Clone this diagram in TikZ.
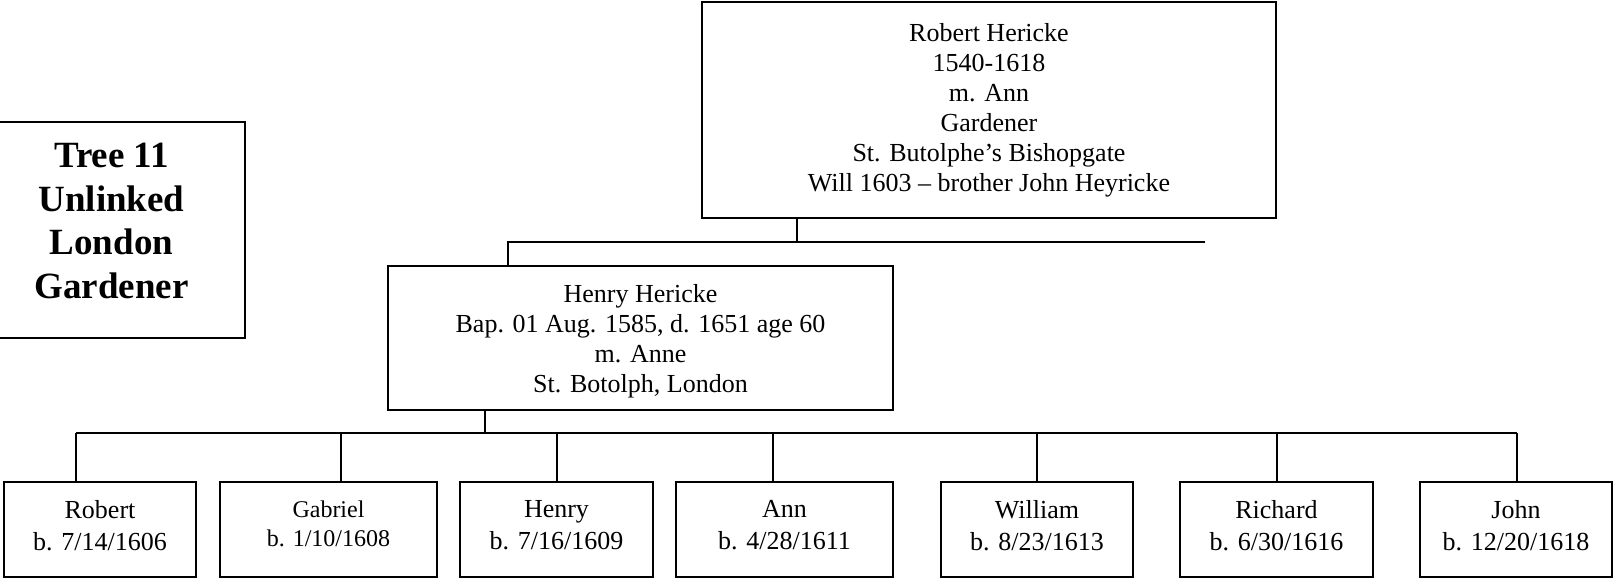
\documentclass[tikz,border=0pt]{standalone}
\usepackage{fontspec}
\setmainfont{Liberation Serif}

% struts to nudge the text inside a fixed box
\newcommand\lowend[1]{\rule[-#1]{0pt}{#1}}
\newcommand\highend[1]{\rule{0pt}{#1}}

\tikzset{
  box/.style={draw,line width=1pt,inner sep=0pt,outer sep=0pt,align=center,
    font=\fontsize{13}{15}\selectfont},
  kid/.style={box,minimum height=47.5pt},
  link/.style={line width=1pt}
}

\begin{document}
\begin{tikzpicture}[x=0.5pt,y=-0.5pt]
\useasboundingbox (0,0) rectangle (1613,580);

\node[box,minimum width=133.5pt,minimum height=108pt,
  font=\fontsize{18.5}{21.75}\selectfont\bfseries] (title) at (111.5,230)
  {Tree 11\\Unlinked\\London\\Gardener\lowend{9pt}};

\node[box,minimum width=287pt,minimum height=108pt] (rob) at (989,110)
  {Robert Hericke\\1540-1618\\m. Ann\\Gardener\\St. Butolphe's Bishopgate\\Will 1603 -- brother John Heyricke};
\node[box,minimum width=252.5pt,minimum height=72pt] (henry) at (640.5,338)
  {\highend{12.4pt}Henry Hericke\\Bap. 01 Aug. 1585, d. 1651 age 60\\m. Anne\\St. Botolph, London};

\coordinate (j1) at (797,242);
\coordinate (j1l) at (508,242);
\coordinate (j1r) at (1205,242);
\draw[link] (j1 |- rob.south) -- (j1);
\draw[link] (j1r) -- (j1l) -- (j1l |- henry.north);

\coordinate (j2) at (485,433);
\draw[link] (j2 |- henry.south) -- (j2);

\foreach \x/\w/\d/\n/\f/\s/\r/\t in {100/96/76/k1/13/16/4.2/{Robert\\b. 7/14/1606},
    328.5/108.5/341/k2/12/14.5/5.7/{Gabriel\\b. 1/10/1608},
    556.5/96.5/557/k3/13/16/4.2/{Henry\\b. 7/16/1609},
    784.5/108.5/773/k4/13/16/4.2/{Ann\\b. 4/28/1611},
    1037/96/1037/k5/13/16/4.2/{William\\b. 8/23/1613},
    1276.5/96.5/1277/k6/13/16/4.2/{Richard\\b. 6/30/1616},
    1516/96/1517/k7/13/16/4.2/{John\\b. 12/20/1618}}{
  \node[kid,minimum width=\w pt,font=\fontsize{\f}{\s}\selectfont] (\n) at (\x,529.5) {\t\lowend{\r pt}};
  \coordinate (d\n) at (\d,433);
  \draw[link] (d\n) -- (d\n |- \n.north);
}
\draw[link] (dk1) -- (dk7);
\end{tikzpicture}
\end{document}
